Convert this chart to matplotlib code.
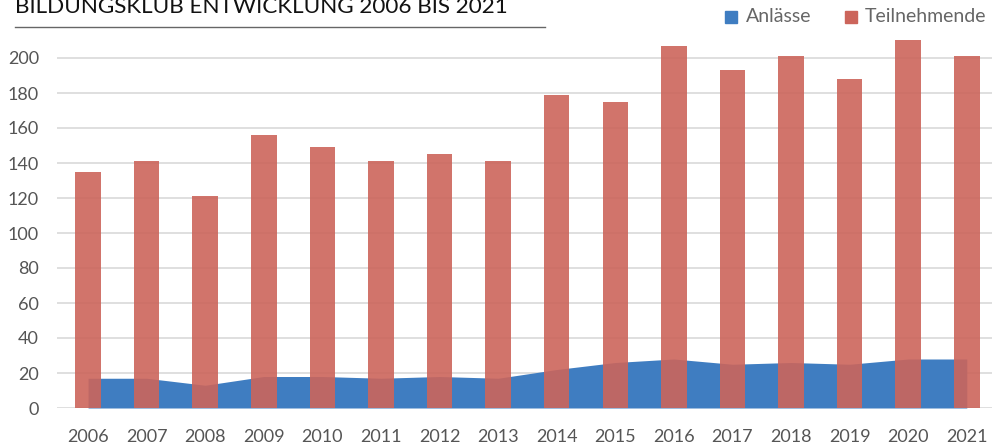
import matplotlib
matplotlib.use("Agg")
import matplotlib.pyplot as plt
import numpy as np
from matplotlib.patches import Rectangle
from matplotlib.lines import Line2D

years = ["2006", "2007", "2008", "2009", "2010", "2011", "2012", "2013",
         "2014", "2015", "2016", "2017", "2018", "2019", "2020", "2021"]
anlaesse = [17, 17, 13, 18, 18, 17, 18, 17, 22, 26, 28, 25, 26, 25, 28, 28]
teilnehmende = [135, 141, 121, 156, 149, 141, 145, 141, 179, 175, 207, 193, 201, 188, 210, 201]
yticks = [0, 20, 40, 60, 80, 100, 120, 140, 160, 180, 200]

title = "BILDUNGSKLUB ENTWICKLUNG 2006 BIS 2021"

plt.rcParams['font.family'] = ['Lato', 'DejaVu Sans']

blue = '#3F7DC1'
red = '#CC655B'
txt = '#555555'

fig = plt.figure(figsize=(10.02, 4.48), dpi=100)
ax = fig.add_axes([57/1002, (448-408)/448, (992-57)/1002, (408-30)/448])

x = np.arange(len(years))
ax.fill_between(x, 0, anlaesse, color=blue, linewidth=0, zorder=2)
ax.bar(x, teilnehmende, width=0.435, color=red, alpha=0.9, zorder=3, linewidth=0)

ax.set_xlim(-0.53, 15.43)
ax.set_ylim(0, 216)
ax.set_yticks(yticks)
ax.set_xticks(x)
ax.set_xticklabels(years)
ax.grid(axis='y', color='#d9d9d9', linewidth=1.2, zorder=1)
ax.set_axisbelow(True)
for s in ax.spines.values():
    s.set_visible(False)
ax.tick_params(axis='both', length=0, labelsize=13, colors=txt)
ax.tick_params(axis='y', pad=13)
ax.tick_params(axis='x', pad=15)

# Title and rule
fig.text(15/1002, 1 - 13/448, title, fontsize=16.2, color='#111111',
         ha='left', va='baseline')
fig.add_artist(Line2D([15/1002, 545/1002], [1 - 27/448, 1 - 27/448],
                      color='#666666', linewidth=1.0))

# Legend
fig.add_artist(Rectangle((725/1002, 1 - 23/448), 12/1002, 12/448,
                         color=blue, transform=fig.transFigure))
fig.text(746/1002, 1 - 22/448, "Anlässe", fontsize=14, color='#666666',
         ha='left', va='baseline')
fig.add_artist(Rectangle((845/1002, 1 - 23/448), 12/1002, 12/448,
                         color=red, transform=fig.transFigure))
fig.text(865/1002, 1 - 22/448, "Teilnehmende", fontsize=14, color='#666666',
         ha='left', va='baseline')

fig.savefig("out.png", dpi=100)
